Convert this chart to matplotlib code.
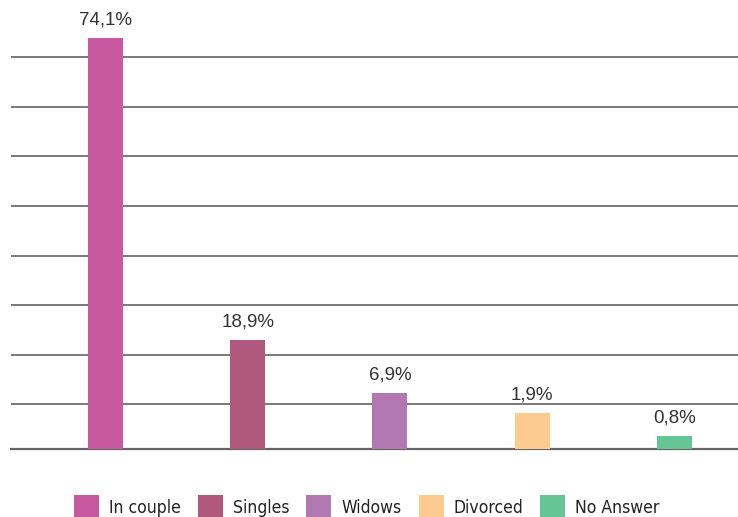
import matplotlib
matplotlib.use("Agg")
import matplotlib.pyplot as plt
from matplotlib.patches import Patch
from matplotlib.font_manager import FontProperties

categories = ["In couple", "Singles", "Widows", "Divorced", "No Answer"]
value_labels = ["74,1%", "18,9%", "6,9%", "1,9%", "0,8%"]
# bar heights as drawn in the picture (grid units, one grid step = 10)
bar_heights = [82.9, 22.0, 11.3, 7.3, 2.6]
grid_levels = [9, 19, 29, 39, 49, 59, 69, 79]
colors = ["#C858A0", "#B0587E", "#B278B2", "#FDCB90", "#66C595"]

leg_prop = FontProperties(family="DejaVu Sans", stretch="condensed", weight="normal", size=12.6)

fig = plt.figure(figsize=(7.38, 5.17), dpi=100)
ax = fig.add_axes([11 / 738, 68 / 517, 727 / 738, 449 / 517])

x = list(range(len(categories)))
bars = ax.bar(x, bar_heights, width=0.246, color=colors, zorder=3)

ax.set_xlim(-0.6646, 4.448)
ax.set_ylim(0, 449 / 4.96)
ax.set_yticks(grid_levels)
ax.yaxis.grid(True, color="#555555", linewidth=1.1, zorder=0)
ax.tick_params(left=False, bottom=False, labelleft=False, labelbottom=False)
for s in ["top", "right", "left"]:
    ax.spines[s].set_visible(False)
ax.spines["bottom"].set_color("#666666")
ax.spines["bottom"].set_linewidth(1.6)

for rect, lab in zip(bars, value_labels):
    ax.annotate(lab, (rect.get_x() + rect.get_width() / 2, rect.get_height()),
                xytext=(0, 7), textcoords="offset points", ha="center", va="bottom",
                fontsize=13.5, color="#333333", family="Liberation Sans")

fs = 12.6 * 100 / 72
handles = [Patch(facecolor=c, edgecolor="none") for c in colors]
fig.legend(handles, categories, ncol=5, loc="upper left",
           bbox_to_anchor=(74 / 738, 1 - 495 / 517), frameon=False,
           borderpad=0, borderaxespad=0, handlelength=25 / fs, handleheight=1.8,
           handletextpad=10 / fs, columnspacing=17 / fs, prop=leg_prop)
for t in fig.legends[0].get_texts():
    t.set_color("#222222")

fig.savefig("out.png", dpi=100)
